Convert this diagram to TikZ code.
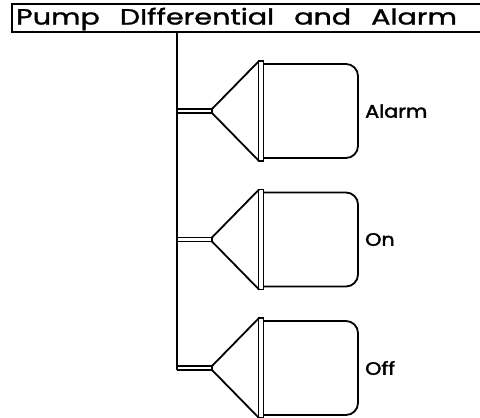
\documentclass[tikz,border=0pt]{standalone}
\usepackage{graphicx}
\usepackage{fontspec}
\setmainfont{Poppins}
\newfontfamily\ttlfont[FakeBold=1.2]{Poppins}
\newfontfamily\lblfont[FakeBold=2]{Poppins}
\begin{document}
\begin{tikzpicture}[x=1pt,y=-1pt,
  ln/.style={line width=1.8pt,black},
  lbl/.style={anchor=west,inner sep=0pt,font=\lblfont\fontsize{18}{19}\selectfont},
  ttl/.style={anchor=west,inner sep=0pt,font=\ttlfont\fontsize{22}{24}\selectfont}]
\useasboundingbox (0,0) rectangle (480,418);
% title box
\draw[ln] (484,4) -- (12,4) -- (12,32) -- (484,32);
\node[ttl] (title) at (16,19) {\scalebox{1.3}[1]{Pump\hspace{0.7em}DIfferential\hspace{0.7em}and\hspace{0.7em}Alarm}};
% stem
\coordinate (stemtop) at (177,32);
\coordinate (stembot) at (177,370);
\draw[ln] (stemtop) -- (stembot);
\foreach \n/\c/\t in {a/111/Alarm,b/239.5/On,c/368/Off}{
  \coordinate (j\n1) at (177,\c-2);
  \coordinate (j\n2) at (177,\c+2);
  \coordinate (p\n1) at (212,\c-2);
  \coordinate (p\n2) at (212,\c+2);
  \draw[ln] (j\n1) -- (p\n1);
  \draw[ln] (j\n2) -- (p\n2);
  \draw[ln,line join=miter] (259,\c-50) -- (p\n1) -- (p\n2) -- (259,\c+50);
  \draw[ln] (258.5,\c-50) rectangle (263.5,\c+50);
  \draw[ln,rounded corners=12pt] (263.5,\c-47) -- (358,\c-47) -- (358,\c+47) -- (263.5,\c+47);
  \node[lbl] (l\n) at (365,\c) {\scalebox{1.15}[1]{\t}};
}
\end{tikzpicture}
\end{document}
